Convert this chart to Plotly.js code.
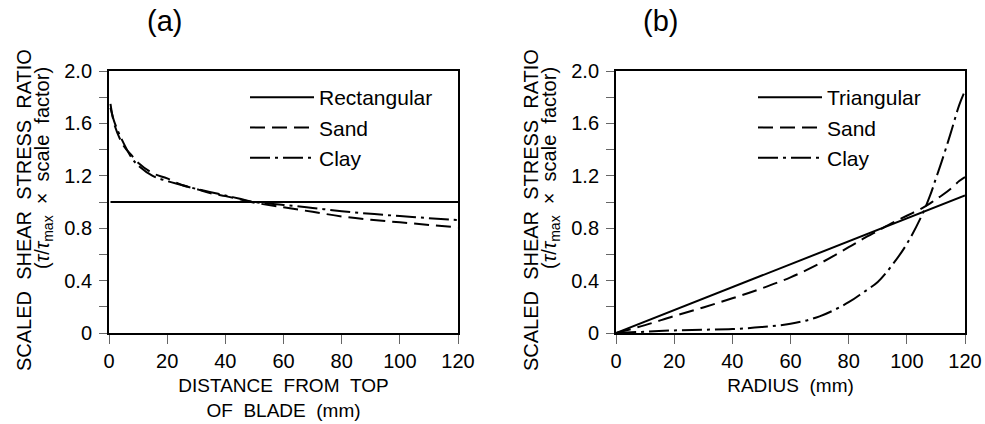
<!DOCTYPE html>
<html>
<head>
<meta charset="utf-8">
<script src="https://cdn.plot.ly/plotly-3.0.1.min.js"></script>
<style>html,body{margin:0;padding:0;background:#fff;}#chart{width:985px;height:424px;}</style>
</head>
<body>
<div id="chart"></div>
<script>
// ---- Panel (a): distance from top of blade (mm)
const distA = [0.5, 2, 5, 8, 10, 15, 20, 25, 30, 35, 40, 45, 50, 60, 70, 80, 90, 100, 110, 120];
const rectA = [1, 1, 1, 1, 1, 1, 1, 1, 1, 1, 1, 1, 1, 1, 1, 1, 1, 1, 1, 1];
const sandA = [1.75, 1.58, 1.43, 1.35, 1.30, 1.22, 1.18, 1.13, 1.10, 1.067, 1.045, 1.02, 0.995, 0.96, 0.925, 0.89, 0.865, 0.845, 0.825, 0.806];
const clayA = [1.72, 1.60, 1.45, 1.33, 1.28, 1.20, 1.16, 1.13, 1.10, 1.075, 1.05, 1.025, 1.0, 0.978, 0.955, 0.93, 0.91, 0.893, 0.877, 0.862];

// ---- Panel (b): radius (mm)
const radB = [0, 10, 20, 30, 40, 50, 60, 70, 80, 85, 90, 95, 100, 105, 108, 110, 112, 115, 118, 120];
const triB = [0, 0.0875, 0.175, 0.2625, 0.35, 0.4375, 0.525, 0.6125, 0.70, 0.744, 0.788, 0.831, 0.875, 0.919, 0.945, 0.963, 0.98, 1.006, 1.033, 1.05];
const sandB = [0, 0.06, 0.13, 0.195, 0.265, 0.34, 0.425, 0.53, 0.655, 0.72, 0.78, 0.84, 0.895, 0.95, 0.99, 1.02, 1.05, 1.10, 1.16, 1.19];
const clayB = [0, 0.01, 0.02, 0.025, 0.03, 0.045, 0.07, 0.127, 0.235, 0.31, 0.39, 0.52, 0.68, 0.89, 1.05, 1.18, 1.31, 1.52, 1.74, 1.85];

const yTickVals = [0, 0.4, 0.8, 1.2, 1.6, 2.0];
const yTickText = ["0", "0.4", "0.8", "1.2", "1.6", "2.0"];
const xTickVals = [0, 20, 40, 60, 80, 100, 120];
const xTickText = ["0", "20", "40", "60", "80", "100", "120"];

const FONT = "Liberation Sans, Arial, sans-serif";
const lw = 2;
const dashSand = "15px,7px";
const dashClay = "20px,5px,3px,5px";
const S = "\u00a0\u00a0";

const traces = [
  {x: distA, y: rectA, name: "Rectangular", mode: "lines", line: {color: "#000", width: lw, dash: "solid"}, xaxis: "x", yaxis: "y", legend: "legend"},
  {x: distA, y: sandA, name: "Sand", mode: "lines", line: {color: "#000", width: lw, dash: dashSand, shape: "spline"}, xaxis: "x", yaxis: "y", legend: "legend"},
  {x: distA, y: clayA, name: "Clay", mode: "lines", line: {color: "#000", width: lw, dash: dashClay, shape: "spline"}, xaxis: "x", yaxis: "y", legend: "legend"},
  {x: radB, y: triB, name: "Triangular", mode: "lines", line: {color: "#000", width: lw, dash: "solid"}, xaxis: "x2", yaxis: "y2", legend: "legend2"},
  {x: radB, y: sandB, name: "Sand", mode: "lines", line: {color: "#000", width: lw, dash: dashSand, shape: "spline"}, xaxis: "x2", yaxis: "y2", legend: "legend2"},
  {x: radB, y: clayB, name: "Clay", mode: "lines", line: {color: "#000", width: lw, dash: dashClay, shape: "spline"}, xaxis: "x2", yaxis: "y2", legend: "legend2"}
];

const yTitle1 = "SCALED" + S + "SHEAR" + S + "STRESS" + S + "RATIO";
const yTitle2 = "(<i>τ</i>/<i>τ</i><sub>max</sub>" + S + "×" + S + "scale" + S + "factor)";

function xAxis(domain, title) {
  return {
    domain: domain, range: [0, 120], tickvals: xTickVals, ticktext: xTickText,
    ticks: "outside", ticklen: 9, tickwidth: 1, tickcolor: "#666",
    showline: true, linecolor: "#000", linewidth: 2, mirror: true,
    showgrid: false, zeroline: false,
    tickfont: {family: FONT, size: 20, color: "#000"},
    title: {text: title, font: {family: FONT, size: 19, color: "#000"}, standoff: 8}
  };
}
function yAxis(anchor) {
  return {
    domain: [0.2146, 0.8325], range: [0, 2], tickvals: yTickVals, ticktext: yTickText,
    ticks: "outside", ticklen: 8, tickwidth: 1, tickcolor: "#666",
    minor: {dtick: 0.2, ticks: "outside", ticklen: 8, tickwidth: 1, tickcolor: "#666", showgrid: false},
    showline: true, linecolor: "#000", linewidth: 2, mirror: true,
    showgrid: false, zeroline: false, anchor: anchor, ticklabelstandoff: 3,
    tickfont: {family: FONT, size: 20, color: "#000"}
  };
}

const legendStyle = (x) => ({
  x: x, y: 1 - 77/424, xanchor: "left", yanchor: "top",
  bgcolor: "rgba(0,0,0,0)", borderwidth: 0,
  font: {family: FONT, size: 21, color: "#000"},
  itemwidth: 64, tracegroupgap: 0
});

const xa = xAxis([0.1107, 0.465], "DISTANCE" + S + "FROM" + S + "TOP<br>OF" + S + "BLADE" + S + "(mm)");
xa.anchor = "y";
const xb = xAxis([0.6254, 0.9797], "RADIUS" + S + "(mm)");
xb.anchor = "y2";

function ann(text, px, py, size, angle) {
  return {text: text, xref: "paper", yref: "paper", x: px/985, y: 1 - py/424,
          xanchor: "center", yanchor: "middle", showarrow: false, textangle: angle || 0,
          font: {family: FONT, size: size, color: "#000"}};
}

const layout = {
  width: 985, height: 424,
  margin: {l: 0, r: 0, t: 0, b: 0},
  paper_bgcolor: "#fff", plot_bgcolor: "#fff",
  showlegend: true,
  font: {family: FONT, color: "#000"},
  xaxis: xa, yaxis: yAxis("x"),
  xaxis2: xb, yaxis2: yAxis("x2"),
  legend: legendStyle(245/985),
  legend2: legendStyle(753/985),
  annotations: [
    ann("(a)", 164, 21, 29),
    ann("(b)", 660, 21, 29),
    ann(yTitle1, 24, 210, 20, -90),
    ann(yTitle2, 43, 168, 20, -90),
    ann(yTitle1, 531, 210, 20, -90),
    ann(yTitle2, 550, 168, 20, -90)
  ]
};

Plotly.newPlot("chart", traces, layout, {displayModeBar: false, staticPlot: true});
</script>
</body>
</html>
